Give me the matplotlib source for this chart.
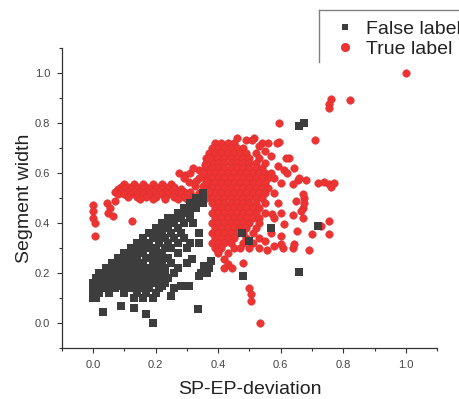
import matplotlib
matplotlib.use("Agg")
import matplotlib.pyplot as plt
from matplotlib.lines import Line2D
from matplotlib.patches import Rectangle
from matplotlib.ticker import MultipleLocator

plt.rcParams["font.family"] = ["Liberation Sans", "DejaVu Sans"]

# ---- data ----
# dense parts are kept as rows: (y, [x, x, ...])
false_rows = [
    (0.10, [0.00, 0.01, 0.13, 0.16, 0.19]),
    (0.12, [0.00, 0.02, 0.05, 0.10, 0.14, 0.17, 0.20]),
    (0.14, [0.00, 0.02, 0.04, 0.07, 0.10, 0.12, 0.15, 0.18, 0.21, 0.26]),
    (0.15, [0.05, 0.09, 0.13, 0.17, 0.22]),
    (0.16, [0.00, 0.02, 0.04, 0.06, 0.08, 0.10, 0.12, 0.14, 0.16, 0.18, 0.20, 0.23]),
    (0.18, [0.01, 0.03, 0.05, 0.07, 0.09, 0.11, 0.13, 0.15, 0.17, 0.19, 0.21, 0.24]),
    (0.19, [0.06, 0.10, 0.14, 0.18, 0.23]),
    (0.20, [0.02, 0.04, 0.06, 0.08, 0.10, 0.12, 0.14, 0.16, 0.18, 0.20, 0.22, 0.26]),
    (0.22, [0.04, 0.06, 0.08, 0.10, 0.12, 0.14, 0.16, 0.18, 0.20, 0.23, 0.27]),
    (0.23, [0.09, 0.13, 0.15, 0.22]),
    (0.24, [0.06, 0.08, 0.10, 0.12, 0.14, 0.16, 0.19, 0.21, 0.25]),
    (0.26, [0.08, 0.10, 0.12, 0.14, 0.17, 0.19, 0.22, 0.24]),
    (0.27, [0.11, 0.13, 0.21]),
    (0.28, [0.10, 0.12, 0.14, 0.16, 0.19, 0.22, 0.27]),
    (0.30, [0.12, 0.14, 0.16, 0.18, 0.20, 0.23, 0.25, 0.30]),
    (0.32, [0.14, 0.16, 0.18, 0.21, 0.24, 0.27, 0.31, 0.34]),
    (0.34, [0.16, 0.19, 0.21, 0.23, 0.26, 0.29]),
    (0.36, [0.18, 0.20, 0.22, 0.25, 0.28, 0.34]),
    (0.38, [0.20, 0.22, 0.24, 0.27]),
    (0.40, [0.22, 0.24, 0.26, 0.29, 0.32]),
    (0.42, [0.24, 0.26, 0.28, 0.31]),
    (0.44, [0.27, 0.29, 0.31]),
    (0.46, [0.29, 0.31, 0.33]),
    (0.48, [0.31, 0.33, 0.35]),
    (0.50, [0.33, 0.35]),
    (0.52, [0.35]),
]
false_extra = [
    (0.03, 0.045), (0.09, 0.07), (0.13, 0.06), (0.17, 0.035), (0.19, 0.0),
    (0.335, 0.055), (0.25, 0.11), (0.28, 0.15), (0.305, 0.15), (0.34, 0.19),
    (0.345, 0.20), (0.365, 0.20), (0.355, 0.227), (0.37, 0.22), (0.376, 0.247),
    (0.30, 0.24), (0.315, 0.255), (0.48, 0.19), (0.66, 0.205), (0.66, 0.79),
    (0.675, 0.80), (0.475, 0.36), (0.50, 0.33), (0.72, 0.39), (0.57, 0.38),
    (0.28, 0.36),
]

true_rows = [
    # left branch
    (0.555, [0.10, 0.13, 0.16, 0.19, 0.22, 0.25]),
    (0.545, [0.09, 0.11, 0.14, 0.17, 0.20, 0.23, 0.26]),
    (0.535, [0.08, 0.10, 0.12, 0.14, 0.16, 0.18, 0.20, 0.22, 0.24, 0.26, 0.28]),
    (0.525, [0.07, 0.09, 0.11, 0.13, 0.15, 0.17, 0.19, 0.21, 0.23, 0.25, 0.27, 0.29, 0.31]),
    (0.515, [0.08, 0.10, 0.12, 0.14, 0.16, 0.18, 0.20, 0.22, 0.24, 0.26, 0.28, 0.30]),
    (0.505, [0.11, 0.14, 0.17, 0.20, 0.23, 0.26, 0.29, 0.32]),
    (0.495, [0.15, 0.19, 0.23, 0.27, 0.30, 0.33]),
    # main cluster
    (0.72, [0.39, 0.41, 0.43, 0.45]),
    (0.70, [0.38, 0.40, 0.42, 0.44, 0.46, 0.48]),
    (0.68, [0.37, 0.39, 0.41, 0.43, 0.45, 0.47, 0.49, 0.52]),
    (0.66, [0.36, 0.38, 0.40, 0.42, 0.44, 0.46, 0.48, 0.50, 0.53]),
    (0.64, [0.36, 0.38, 0.40, 0.42, 0.44, 0.46, 0.48, 0.50, 0.52, 0.55]),
    (0.62, [0.36, 0.38, 0.40, 0.42, 0.44, 0.46, 0.48, 0.50, 0.52, 0.54]),
    (0.60, [0.37, 0.39, 0.41, 0.43, 0.45, 0.47, 0.49, 0.51, 0.53, 0.55]),
    (0.58, [0.36, 0.38, 0.40, 0.42, 0.44, 0.46, 0.48, 0.50, 0.52, 0.54, 0.56]),
    (0.56, [0.37, 0.39, 0.41, 0.43, 0.45, 0.47, 0.49, 0.51, 0.53, 0.55]),
    (0.54, [0.36, 0.38, 0.40, 0.42, 0.44, 0.46, 0.48, 0.50, 0.52, 0.54, 0.56]),
    (0.52, [0.37, 0.39, 0.41, 0.43, 0.45, 0.47, 0.49, 0.51, 0.53, 0.55]),
    (0.50, [0.38, 0.40, 0.42, 0.44, 0.46, 0.48, 0.50, 0.52, 0.54]),
    (0.48, [0.38, 0.40, 0.42, 0.44, 0.46, 0.48, 0.50, 0.52, 0.55]),
    (0.46, [0.39, 0.41, 0.43, 0.45, 0.47, 0.49, 0.51, 0.53]),
    (0.44, [0.38, 0.40, 0.42, 0.44, 0.46, 0.48, 0.50, 0.52, 0.55]),
    (0.42, [0.39, 0.41, 0.43, 0.45, 0.47, 0.49, 0.51, 0.53]),
    (0.40, [0.38, 0.40, 0.42, 0.44, 0.46, 0.48, 0.50, 0.53]),
    (0.38, [0.39, 0.41, 0.43, 0.45, 0.47, 0.49, 0.52]),
    (0.36, [0.38, 0.40, 0.42, 0.44, 0.46, 0.48, 0.51]),
    (0.34, [0.39, 0.41, 0.43, 0.45, 0.49, 0.53]),
    (0.32, [0.38, 0.40, 0.42, 0.44, 0.48, 0.51]),
    (0.30, [0.39, 0.41, 0.45, 0.47]),
    (0.28, [0.40, 0.43]),
]
true_extra = [
    # far left group
    (0.0, 0.473), (0.0, 0.447), (0.0, 0.42), (0.005, 0.40), (0.043, 0.48),
    (0.054, 0.46), (0.07, 0.487), (0.048, 0.44), (0.064, 0.427), (0.123, 0.407),
    (0.005, 0.347), (0.12, 0.30), (0.14, 0.31),
    # join between branch and cluster
    (0.305, 0.566), (0.295, 0.593), (0.338, 0.613), (0.359, 0.633), (0.338, 0.58),
    (0.327, 0.547), (0.273, 0.60), (0.289, 0.58), (0.34, 0.52), (0.35, 0.55),
    (0.36, 0.57), (0.33, 0.57), (0.36, 0.50), (0.37, 0.53), (0.31, 0.60),
    (0.32, 0.62), (0.35, 0.60), (0.36, 0.64), (0.37, 0.66),
    # lower tail
    (0.40, 0.29), (0.42, 0.255), (0.43, 0.235), (0.42, 0.22), (0.445, 0.22),
    (0.48, 0.24), (0.50, 0.14), (0.505, 0.115), (0.505, 0.088), (0.534, 0.0),
    # right side scatter
    (0.498, 0.30), (0.53, 0.30), (0.557, 0.294), (0.606, 0.30), (0.638, 0.30),
    (0.691, 0.294), (0.60, 0.315), (0.643, 0.315), (0.60, 0.347), (0.653, 0.37),
    (0.70, 0.355), (0.756, 0.355), (0.729, 0.387), (0.756, 0.41), (0.611, 0.395),
    (0.572, 0.435), (0.638, 0.434), (0.649, 0.487), (0.67, 0.46), (0.675, 0.50),
    (0.67, 0.42), (0.666, 0.447), (0.675, 0.48), (0.67, 0.515), (0.654, 0.573),
    (0.68, 0.573), (0.64, 0.555), (0.66, 0.58), (0.72, 0.56), (0.74, 0.565),
    (0.755, 0.555), (0.77, 0.56), (0.76, 0.545), (0.611, 0.614), (0.643, 0.62),
    (0.627, 0.66), (0.616, 0.66), (0.595, 0.726), (0.541, 0.72), (0.514, 0.74),
    (0.488, 0.733), (0.461, 0.74), (0.593, 0.80), (0.711, 0.733), (0.761, 0.898),
    (0.756, 0.878), (0.753, 0.859), (0.822, 0.892), (1.0, 1.0), (0.58, 0.52),
    (0.59, 0.48), (0.60, 0.44), (0.58, 0.42), (0.57, 0.36), (0.55, 0.33),
    (0.58, 0.31), (0.60, 0.56), (0.62, 0.60), (0.59, 0.63), (0.57, 0.67),
    (0.55, 0.69), (0.53, 0.71), (0.56, 0.72), (0.57, 0.60), (0.58, 0.58),
    (0.509, 0.733), (0.589, 0.72),
]

x_ticks = [0.0, 0.2, 0.4, 0.6, 0.8, 1.0]
y_ticks = [0.0, 0.2, 0.4, 0.6, 0.8, 1.0]
labels = ["False label", "True label"]

FALSE_COLOR = "#3d3d3d"
TRUE_COLOR = "#ee3333"
TRUE_EDGE = "#d62d2d"


def flatten(rows, extra):
    xs, ys = [], []
    for y, row in rows:
        for x in row:
            xs.append(x)
            ys.append(y)
    for x, y in extra:
        xs.append(x)
        ys.append(y)
    return xs, ys


def main():
    false_x, false_y = flatten(false_rows, false_extra)
    true_x, true_y = flatten(true_rows, true_extra)

    fig = plt.figure(figsize=(4.6, 3.99), dpi=100)
    ax = fig.add_axes([62 / 460, 1 - 348 / 399, 375 / 460, 300 / 399])

    ax.scatter(true_x, true_y, s=30, marker="o", c=TRUE_COLOR,
               edgecolors=TRUE_EDGE, linewidths=0.3, zorder=2)
    ax.scatter(false_x, false_y, s=28, marker="s", c=FALSE_COLOR,
               linewidths=0, zorder=3)

    ax.set_xlim(-0.1, 1.1)
    ax.set_ylim(-0.1, 1.1)
    ax.set_xticks(x_ticks)
    ax.set_yticks(y_ticks)
    ax.xaxis.set_minor_locator(MultipleLocator(0.1))
    ax.yaxis.set_minor_locator(MultipleLocator(0.1))

    for side in ["top", "right"]:
        ax.spines[side].set_visible(False)
    for side in ["left", "bottom"]:
        ax.spines[side].set_color("#333333")
        ax.spines[side].set_linewidth(0.9)

    ax.tick_params(which="major", direction="out", length=3.5, width=0.8,
                   color="#333333", labelsize=8, labelcolor="#444444", pad=5)
    ax.tick_params(which="minor", direction="out", length=2, width=0.8,
                   color="#333333")

    ax.set_xlabel("SP-EP-deviation", fontsize=14, color="#222222", labelpad=8)
    ax.set_ylabel("Segment width", fontsize=14, color="#222222", labelpad=1)

    # legend box, cut by the right edge, no bottom border
    box = Rectangle((319 / 460, 1 - 62 / 399), 0.4, 52 / 399,
                    transform=fig.transFigure, facecolor="white",
                    edgecolor="none", zorder=5)
    fig.add_artist(box)
    fig.add_artist(Line2D([319 / 460, 1.0], [1 - 10 / 399, 1 - 10 / 399],
                          transform=fig.transFigure, color="#808080",
                          linewidth=1, zorder=6))
    fig.add_artist(Line2D([319 / 460, 319 / 460], [1 - 10 / 399, 1 - 62 / 399],
                          transform=fig.transFigure, color="#808080",
                          linewidth=1, zorder=6))

    handles = [
        Line2D([], [], linestyle="none", marker="s", markersize=5,
               markerfacecolor=FALSE_COLOR, markeredgewidth=0),
        Line2D([], [], linestyle="none", marker="o", markersize=6,
               markerfacecolor=TRUE_COLOR, markeredgecolor=TRUE_EDGE,
               markeredgewidth=0.5),
    ]
    leg = fig.legend(handles=handles, labels=labels, loc="upper left",
                     bbox_to_anchor=(335 / 460, 1 - 20 / 399),
                     frameon=False, fontsize=14, labelspacing=0.15,
                     handlelength=1.0, handletextpad=0.58,
                     borderpad=0, borderaxespad=0)
    for text in leg.get_texts():
        text.set_color("#222222")
    leg.set_zorder(10)

    fig.savefig("out.png", dpi=100)
    plt.close(fig)


if __name__ == "__main__":
    main()
